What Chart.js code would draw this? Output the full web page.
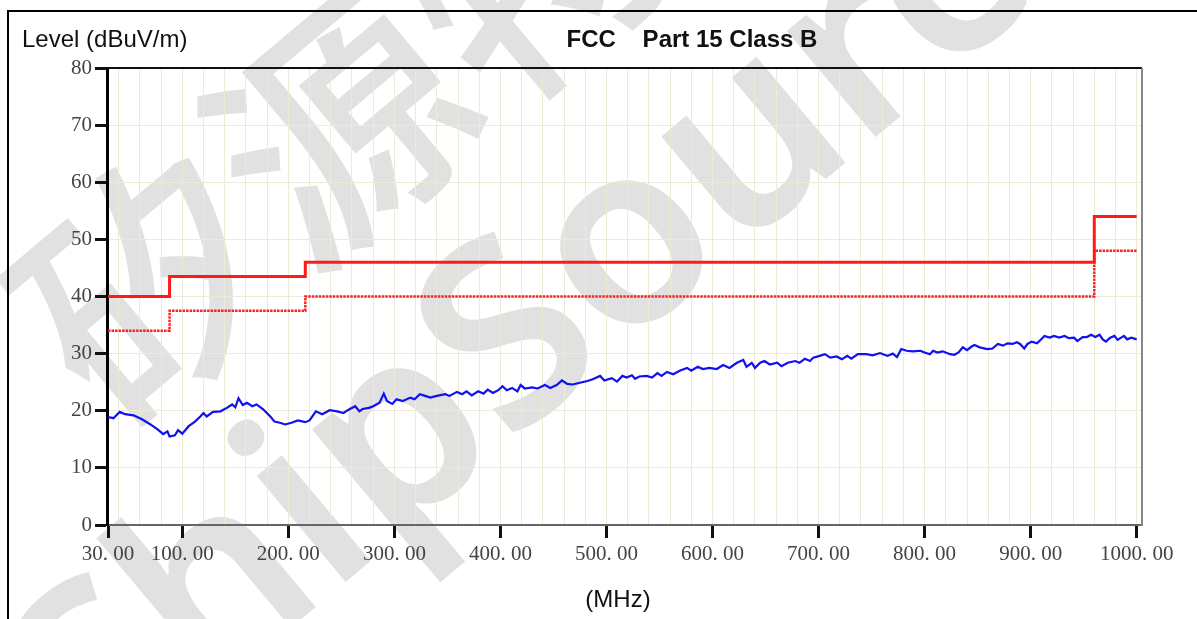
<!DOCTYPE html>
<html>
<head>
<meta charset="utf-8">
<script src="https://cdn.jsdelivr.net/npm/chart.js@4.4.1/dist/chart.umd.min.js"></script>
<style>
  html, body { margin: 0; padding: 0; background: #fff; }
  #wrap { position: relative; width: 1197px; height: 619px; }
</style>
</head>
<body>
<div id="wrap"><canvas id="emi" width="1197" height="619"></canvas></div>
<script>
// axis ticks
const xTickValues = [30, 100, 200, 300, 400, 500, 600, 700, 800, 900, 1000];
const xGridStep = 20;
const yTickValues = [0, 10, 20, 30, 40, 50, 60, 70, 80];

// FCC Part 15 class B limit (solid) and limit - 6 dB margin (dotted)
const limitFreq = [30, 88, 216, 960, 1000];
const limitLine = [40, 43.5, 46, 54, 54];
const marginLine = [34, 37.5, 40, 48, 48];

const traceFreq = [
  30, 35, 41, 46, 54, 62, 70, 77, 82, 86, 88, 93, 96, 100, 106, 112, 117, 120, 123, 129,
  136, 142, 147, 150, 153, 157, 161, 166, 170, 176, 183, 187, 192, 197, 203, 209, 216, 220, 226, 232,
  239, 246, 252, 256, 263, 267, 270, 276, 280, 286, 290, 293, 298, 302, 308, 315, 319, 324, 329, 334,
  340, 348, 352, 359, 364, 368, 373, 379, 384, 388, 393, 398, 402, 406, 411, 416, 419, 423, 430, 435,
  442, 447, 453, 458, 463, 468, 475, 482, 487, 494, 498, 505, 510, 515, 519, 524, 527, 531, 538, 543,
  548, 552, 557, 563, 569, 576, 580, 586, 591, 597, 604, 610, 616, 623, 629, 632, 637, 640, 645, 649,
  654, 661, 665, 671, 678, 682, 687, 692, 695, 701, 706, 711, 717, 722, 727, 731, 737, 745, 751, 758,
  762, 765, 770, 774, 778, 783, 789, 796, 800, 805, 808, 812, 817, 824, 828, 832, 836, 840, 844, 847,
  852, 859, 864, 869, 874, 878, 883, 887, 890, 894, 897, 901, 906, 910, 913, 918, 922, 927, 932, 936,
  941, 944, 949, 953, 957, 961, 965, 968, 971, 975, 979, 982, 988, 991, 995, 1000
];
const traceLevel = [
  18.9, 18.7, 19.8, 19.4, 19.2, 18.5, 17.6, 16.7, 15.9, 16.4, 15.5, 15.7, 16.6, 16.0, 17.3, 18.1, 19.0, 19.6, 19.0, 19.8,
  19.9, 20.5, 21.1, 20.6, 22.2, 21.0, 21.4, 20.8, 21.1, 20.3, 19.0, 18.1, 17.9, 17.6, 17.9, 18.3, 18.0, 18.3, 19.9, 19.4,
  20.1, 19.9, 19.6, 20.1, 20.8, 19.9, 20.3, 20.5, 20.8, 21.4, 23.0, 21.7, 21.2, 22.0, 21.7, 22.3, 22.0, 22.9, 22.6, 22.3,
  22.6, 22.9, 22.6, 23.3, 22.9, 23.4, 22.7, 23.4, 23.0, 23.7, 23.1, 23.6, 24.3, 23.6, 24.0, 23.4, 24.5, 23.9, 24.1, 23.9,
  24.5, 24.0, 24.5, 25.3, 24.7, 24.6, 24.9, 25.2, 25.5, 26.1, 25.3, 25.7, 25.1, 26.1, 25.8, 26.2, 25.6, 26.0, 26.1, 25.8,
  26.6, 26.1, 26.8, 26.4, 27.0, 27.5, 27.0, 27.7, 27.3, 27.5, 27.3, 28.0, 27.5, 28.4, 28.9, 27.7, 28.4, 27.5, 28.4, 28.7,
  28.1, 28.4, 27.8, 28.4, 28.7, 28.4, 29.1, 28.7, 29.3, 29.6, 29.9, 29.3, 29.5, 29.0, 29.6, 29.1, 29.9, 29.9, 29.7, 30.1,
  29.8, 29.6, 30.0, 29.4, 30.8, 30.5, 30.4, 30.5, 30.2, 29.9, 30.5, 30.2, 30.4, 29.9, 29.8, 30.2, 31.1, 30.6, 31.2, 31.5,
  31.1, 30.8, 30.9, 31.7, 31.4, 31.8, 31.7, 32.0, 31.7, 30.9, 31.7, 32.1, 31.8, 32.5, 33.1, 32.8, 33.1, 32.8, 33.1, 32.7,
  32.8, 32.2, 32.9, 32.9, 33.3, 32.9, 33.3, 32.5, 32.1, 32.8, 33.1, 32.4, 33.1, 32.5, 32.8, 32.5
];

const toPoints = (xs, ys) => xs.map((x, i) => ({ x: x, y: ys[i] }));
const isLabelled = (v) => xTickValues.indexOf(v) !== -1;

const LABEL_FONT = '"Liberation Serif", "DejaVu Serif", serif';
const SANS = '"Liberation Sans", Arial, sans-serif';
const WM_ANGLE = -40 * Math.PI / 180;

// draw text rotated so that the centre of one of its characters sits on (cx, cy)
function anchoredText(ctx, text, idx, cx, cy) {
  const before = ctx.measureText(text.slice(0, idx)).width;
  const half = ctx.measureText(text.charAt(idx)).width / 2;
  const d = before + half;
  ctx.save();
  ctx.translate(cx - d * Math.cos(WM_ANGLE), cy - d * Math.sin(WM_ANGLE));
  ctx.rotate(WM_ANGLE);
  ctx.fillText(text, 0, 0);
  ctx.restore();
}

// background, outer frame and watermark, drawn before everything else
const backdrop = {
  id: 'backdrop',
  beforeDraw(chart) {
    const ctx = chart.ctx;
    ctx.save();
    ctx.fillStyle = '#fff';
    ctx.fillRect(0, 0, chart.width, chart.height);

    ctx.fillStyle = '#e1e1e1';
    ctx.textBaseline = 'middle';
    ctx.textAlign = 'left';
    ctx.font = '500 250px "Noto Sans CJK SC"';
    anchoredText(ctx, '矽源特', 1, 340, 125);
    ctx.font = '600 255px "Noto Sans", "Open Sans", sans-serif';
    anchoredText(ctx, 'ChipSource', 4, 515, 345);

    ctx.strokeStyle = '#000';
    ctx.lineWidth = 2;
    ctx.beginPath();
    ctx.moveTo(8, chart.height);
    ctx.lineTo(8, 11);
    ctx.lineTo(chart.width, 11);
    ctx.stroke();
    ctx.restore();
  },
  afterDraw(chart) {
    const { ctx, chartArea: a } = chart;
    ctx.save();
    ctx.lineWidth = 2;
    ctx.strokeStyle = '#111';
    ctx.beginPath();
    ctx.moveTo(a.left, a.top);
    ctx.lineTo(a.right, a.top);
    ctx.stroke();
    ctx.strokeStyle = '#888';
    ctx.beginPath();
    ctx.moveTo(a.right, a.top);
    ctx.lineTo(a.right, a.bottom + 1);
    ctx.stroke();

    ctx.fillStyle = '#111';
    ctx.textBaseline = 'middle';
    ctx.textAlign = 'left';
    ctx.font = '24px ' + SANS;
    ctx.fillText('Level (dBuV/m)', 22, 40);
    ctx.textAlign = 'center';
    ctx.font = 'bold 24px ' + SANS;
    ctx.fillText('FCC    Part 15 Class B', 692, 40);
    ctx.font = '24px ' + SANS;
    ctx.fillText('(MHz)', 618, 600);
    ctx.restore();
  }
};

new Chart(document.getElementById('emi'), {
  type: 'line',
  data: {
    datasets: [
      {
        data: toPoints(limitFreq, limitLine),
        stepped: true,
        borderColor: '#ff1a1a',
        borderWidth: 3,
        pointRadius: 0
      },
      {
        data: toPoints(limitFreq, marginLine),
        stepped: true,
        borderColor: '#ff2020',
        borderWidth: 2.5,
        borderDash: [2.5, 1],
        pointRadius: 0
      },
      {
        data: toPoints(traceFreq, traceLevel),
        borderColor: '#1010f0',
        borderWidth: 2.2,
        pointRadius: 0,
        tension: 0
      }
    ]
  },
  options: {
    responsive: false,
    animation: false,
    events: [],
    layout: { padding: { top: 68, right: 55, left: 0, bottom: 0 } },
    plugins: {
      legend: { display: false },
      tooltip: { enabled: false },
      title: { display: false }
    },
    scales: {
      x: {
        type: 'linear',
        min: 29,
        max: 1005,
        afterBuildTicks(scale) {
          const vals = [30];
          for (let v = 40; v <= 1000; v += xGridStep) vals.push(v);
          scale.ticks = vals.map(v => ({ value: v }));
        },
        afterFit(scale) { scale.height = 94; },
        border: { color: '#666', width: 2 },
        grid: {
          color: '#ecebd9',
          lineWidth: 1,
          tickLength: 13,
          tickWidth: 3,
          tickColor: (c) => isLabelled(c.tick.value) ? '#111' : 'rgba(0,0,0,0)'
        },
        ticks: {
          autoSkip: false,
          maxRotation: 0,
          padding: 4,
          color: '#444',
          font: { family: LABEL_FONT, size: 21 },
          callback: (v) => isLabelled(v) ? v.toFixed(2).replace('.', '. ') : ''
        }
      },
      y: {
        min: 0,
        max: 80,
        afterBuildTicks(scale) {
          scale.ticks = yTickValues.map(v => ({ value: v }));
        },
        afterFit(scale) { scale.width = 107; },
        border: { color: '#000', width: 3 },
        grid: {
          color: '#ecebd9',
          lineWidth: 1,
          tickLength: 12,
          tickWidth: 3,
          tickColor: '#111'
        },
        ticks: {
          padding: 3,
          color: '#444',
          font: { family: LABEL_FONT, size: 21 }
        }
      }
    }
  },
  plugins: [backdrop]
});
</script>
</body>
</html>
